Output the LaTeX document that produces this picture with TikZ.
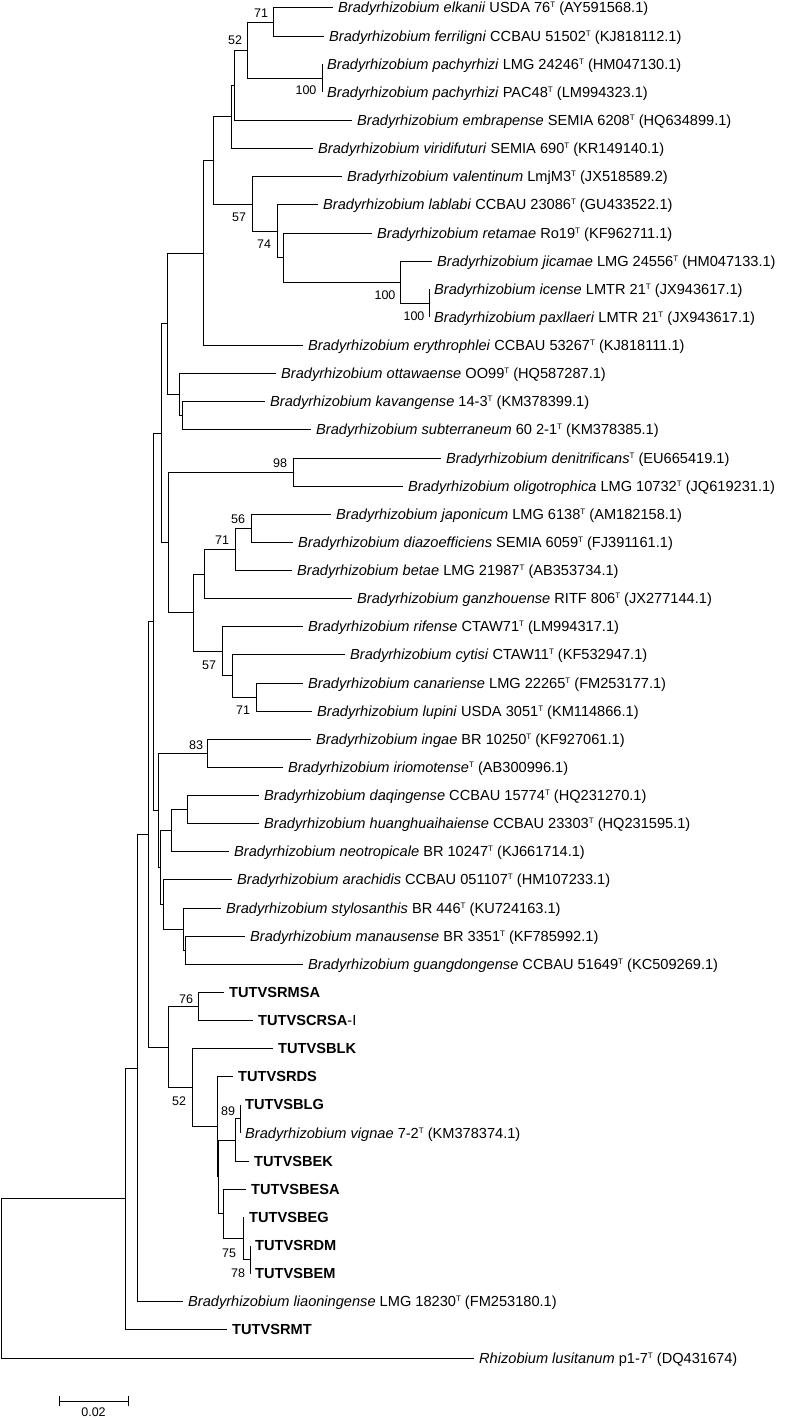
\documentclass[tikz,border=0pt]{standalone}
\usepackage{fontspec}
\setmainfont{Liberation Sans}
\newcommand{\leaffont}{\fontsize{14.6}{16}\selectfont}
\newcommand{\bsfont}{\fontsize{12.5}{14}\selectfont}
\newcommand{\tsup}{\raisebox{5pt}{\fontsize{8}{8}\selectfont T}}
\tikzset{
  br/.style={line width=1pt, draw=black},
  leaf/.style={anchor=base west, inner sep=0pt, xshift=5pt, yshift=-5pt, font=\leaffont},
  bs/.style={inner sep=0pt, font=\bsfont},
}
\begin{document}
\begin{tikzpicture}[x=1pt,y=-1pt]
\useasboundingbox (0,0) rectangle (785,1418);
% leaves
\coordinate (l1) at (333,8);
\coordinate (l2) at (324,36.125);
\coordinate (l3) at (322,64.25);
\coordinate (l4) at (322,92.375);
\coordinate (l5) at (352,120.5);
\coordinate (l6) at (313,148.625);
\coordinate (l7) at (342,176.75);
\coordinate (l8) at (318,204.875);
\coordinate (l9) at (372,233);
\coordinate (l10) at (432,261.125);
\coordinate (l11) at (429,289.25);
\coordinate (l12) at (429,317.375);
\coordinate (l13) at (303,345.5);
\coordinate (l14) at (276,373.625);
\coordinate (l15) at (265,401.75);
\coordinate (l16) at (311,429.875);
\coordinate (l17) at (441,458);
\coordinate (l18) at (403,486.125);
\coordinate (l19) at (331,514.25);
\coordinate (l20) at (293,542.375);
\coordinate (l21) at (292,570.5);
\coordinate (l22) at (352,598.625);
\coordinate (l23) at (303,626.75);
\coordinate (l24) at (345,654.875);
\coordinate (l25) at (303,683);
\coordinate (l26) at (312,711.125);
\coordinate (l27) at (311,739.25);
\coordinate (l28) at (283,767.375);
\coordinate (l29) at (259,795.5);
\coordinate (l30) at (259,823.625);
\coordinate (l31) at (229,851.75);
\coordinate (l32) at (232,879.875);
\coordinate (l33) at (221,908);
\coordinate (l34) at (245,936.125);
\coordinate (l35) at (303,964.25);
\coordinate (l36) at (224,992.375);
\coordinate (l37) at (253,1020.5);
\coordinate (l38) at (273,1048.625);
\coordinate (l39) at (233,1076.75);
\coordinate (l40) at (240,1104.875);
\coordinate (l41) at (240,1133);
\coordinate (l42) at (249,1161.125);
\coordinate (l43) at (246,1189.25);
\coordinate (l44) at (244,1217.375);
\coordinate (l45) at (250,1245.5);
\coordinate (l46) at (250,1273.625);
\coordinate (l47) at (183,1301.75);
\coordinate (l48) at (227,1329.875);
\coordinate (l49) at (474,1358);
% internal nodes
\coordinate (A71) at (273,22.06);
\coordinate (P100) at (322,78.31);
\coordinate (A52) at (247,50.19);
\coordinate (B) at (234,85.34);
\coordinate (C) at (231,116.98);
\coordinate (I100) at (429,303.31);
\coordinate (H) at (400,282.22);
\coordinate (G) at (283,257.61);
\coordinate (F) at (277,231.24);
\coordinate (E) at (252,204.0);
\coordinate (D) at (213,160.49);
\coordinate (J) at (203,253.0);
\coordinate (M) at (182,415.81);
\coordinate (L) at (179,394.72);
\coordinate (K) at (167,323.86);
\coordinate (D98) at (293,472.06);
\coordinate (T56) at (251,528.31);
\coordinate (S71) at (235,549.41);
\coordinate (Q) at (204,574.02);
\coordinate (V71) at (256,697.06);
\coordinate (U) at (232,675.97);
\coordinate (R57) at (222,651.36);
\coordinate (P) at (193,612.69);
\coordinate (O) at (168,542.38);
\coordinate (N) at (161,433.12);
\coordinate (Y83) at (207,753.31);
\coordinate (AA) at (187,809.56);
\coordinate (AB) at (171,830.66);
\coordinate (AE) at (185,950.19);
\coordinate (AD) at (183,929.09);
\coordinate (AC) at (163,904.48);
\coordinate (Z) at (160,867.57);
\coordinate (X) at (158,810.44);
\coordinate (W) at (153,621.78);
\coordinate (AF76) at (198,1006.44);
\coordinate (AL89) at (240,1118.94);
\coordinate (AK) at (235,1140.03);
\coordinate (AO78) at (250,1259.56);
\coordinate (AN75) at (243,1238.47);
\coordinate (AM) at (223,1213.86);
\coordinate (AJ) at (218,1176.95);
\coordinate (AI) at (217,1126.85);
\coordinate (AH52) at (192,1087.74);
\coordinate (AG) at (168,1047.09);
\coordinate (AP) at (148,834.44);
\coordinate (AQ) at (137,1068.09);
\coordinate (AR) at (125,1198.98);
\coordinate (root) at (1,1278.49);
% branches
\draw[br] (A71) |- (l1) (A71) |- (l2);
\draw[br] (P100) |- (l3) (P100) |- (l4);
\draw[br] (A52) |- (A71) (A52) |- (P100);
\draw[br] (B) |- (A52) (B) |- (l5);
\draw[br] (C) |- (B) (C) |- (l6);
\draw[br] (I100) |- (l11) (I100) |- (l12);
\draw[br] (H) |- (l10) (H) |- (I100);
\draw[br] (G) |- (l9) (G) |- (H);
\draw[br] (F) |- (l8) (F) |- (G);
\draw[br] (E) |- (l7) (E) |- (F);
\draw[br] (D) |- (C) (D) |- (E);
\draw[br] (J) |- (D) (J) |- (l13);
\draw[br] (M) |- (l15) (M) |- (l16);
\draw[br] (L) |- (l14) (L) |- (M);
\draw[br] (K) |- (J) (K) |- (L);
\draw[br] (D98) |- (l17) (D98) |- (l18);
\draw[br] (T56) |- (l19) (T56) |- (l20);
\draw[br] (S71) |- (T56) (S71) |- (l21);
\draw[br] (Q) |- (S71) (Q) |- (l22);
\draw[br] (V71) |- (l25) (V71) |- (l26);
\draw[br] (U) |- (l24) (U) |- (V71);
\draw[br] (R57) |- (l23) (R57) |- (U);
\draw[br] (P) |- (Q) (P) |- (R57);
\draw[br] (O) |- (D98) (O) |- (P);
\draw[br] (N) |- (K) (N) |- (O);
\draw[br] (Y83) |- (l27) (Y83) |- (l28);
\draw[br] (AA) |- (l29) (AA) |- (l30);
\draw[br] (AB) |- (AA) (AB) |- (l31);
\draw[br] (AE) |- (l34) (AE) |- (l35);
\draw[br] (AD) |- (l33) (AD) |- (AE);
\draw[br] (AC) |- (l32) (AC) |- (AD);
\draw[br] (Z) |- (AB) (Z) |- (AC);
\draw[br] (X) |- (Y83) (X) |- (Z);
\draw[br] (W) |- (N) (W) |- (X);
\draw[br] (AF76) |- (l36) (AF76) |- (l37);
\draw[br] (AL89) |- (l40) (AL89) |- (l41);
\draw[br] (AK) |- (AL89) (AK) |- (l42);
\draw[br] (AO78) |- (l45) (AO78) |- (l46);
\draw[br] (AN75) |- (l44) (AN75) |- (AO78);
\draw[br] (AM) |- (l43) (AM) |- (AN75);
\draw[br] (AJ) |- (AK) (AJ) |- (AM);
\draw[br] (AI) |- (l39) (AI) |- (AJ);
\draw[br] (AH52) |- (l38) (AH52) |- (AI);
\draw[br] (AG) |- (AF76) (AG) |- (AH52);
\draw[br] (AP) |- (W) (AP) |- (AG);
\draw[br] (AQ) |- (AP) (AQ) |- (l47);
\draw[br] (AR) |- (AQ) (AR) |- (l48);
\draw[br] (root) |- (AR) (root) |- (l49);
% leaf labels
\node[leaf] (t1) at (l1) {\textit{Bradyrhizobium elkanii} USDA 76\tsup{} (AY591568.1)};
\node[leaf] (t2) at (l2) {\textit{Bradyrhizobium ferriligni} CCBAU 51502\tsup{} (KJ818112.1)};
\node[leaf] (t3) at (l3) {\textit{Bradyrhizobium pachyrhizi} LMG 24246\tsup{} (HM047130.1)};
\node[leaf] (t4) at (l4) {\textit{Bradyrhizobium pachyrhizi} PAC48\tsup{} (LM994323.1)};
\node[leaf] (t5) at (l5) {\textit{Bradyrhizobium embrapense} SEMIA 6208\tsup{} (HQ634899.1)};
\node[leaf] (t6) at (l6) {\textit{Bradyrhizobium viridifuturi} SEMIA 690\tsup{} (KR149140.1)};
\node[leaf] (t7) at (l7) {\textit{Bradyrhizobium valentinum} LmjM3\tsup{} (JX518589.2)};
\node[leaf] (t8) at (l8) {\textit{Bradyrhizobium lablabi} CCBAU 23086\tsup{} (GU433522.1)};
\node[leaf] (t9) at (l9) {\textit{Bradyrhizobium retamae} Ro19\tsup{} (KF962711.1)};
\node[leaf] (t10) at (l10) {\textit{Bradyrhizobium jicamae} LMG 24556\tsup{} (HM047133.1)};
\node[leaf] (t11) at (l11) {\textit{Bradyrhizobium icense} LMTR 21\tsup{} (JX943617.1)};
\node[leaf] (t12) at (l12) {\textit{Bradyrhizobium paxllaeri} LMTR 21\tsup{} (JX943617.1)};
\node[leaf] (t13) at (l13) {\textit{Bradyrhizobium erythrophlei} CCBAU 53267\tsup{} (KJ818111.1)};
\node[leaf] (t14) at (l14) {\textit{Bradyrhizobium ottawaense} OO99\tsup{} (HQ587287.1)};
\node[leaf] (t15) at (l15) {\textit{Bradyrhizobium kavangense} 14-3\tsup{} (KM378399.1)};
\node[leaf] (t16) at (l16) {\textit{Bradyrhizobium subterraneum} 60 2-1\tsup{} (KM378385.1)};
\node[leaf] (t17) at (l17) {\textit{Bradyrhizobium denitrificans}\tsup{} (EU665419.1)};
\node[leaf] (t18) at (l18) {\textit{Bradyrhizobium oligotrophica} LMG 10732\tsup{} (JQ619231.1)};
\node[leaf] (t19) at (l19) {\textit{Bradyrhizobium japonicum} LMG 6138\tsup{} (AM182158.1)};
\node[leaf] (t20) at (l20) {\textit{Bradyrhizobium diazoefficiens} SEMIA 6059\tsup{} (FJ391161.1)};
\node[leaf] (t21) at (l21) {\textit{Bradyrhizobium betae} LMG 21987\tsup{} (AB353734.1)};
\node[leaf] (t22) at (l22) {\textit{Bradyrhizobium ganzhouense} RITF 806\tsup{} (JX277144.1)};
\node[leaf] (t23) at (l23) {\textit{Bradyrhizobium rifense} CTAW71\tsup{} (LM994317.1)};
\node[leaf] (t24) at (l24) {\textit{Bradyrhizobium cytisi} CTAW11\tsup{} (KF532947.1)};
\node[leaf] (t25) at (l25) {\textit{Bradyrhizobium canariense} LMG 22265\tsup{} (FM253177.1)};
\node[leaf] (t26) at (l26) {\textit{Bradyrhizobium lupini} USDA 3051\tsup{} (KM114866.1)};
\node[leaf] (t27) at (l27) {\textit{Bradyrhizobium ingae} BR 10250\tsup{} (KF927061.1)};
\node[leaf] (t28) at (l28) {\textit{Bradyrhizobium iriomotense}\tsup{} (AB300996.1)};
\node[leaf] (t29) at (l29) {\textit{Bradyrhizobium daqingense} CCBAU 15774\tsup{} (HQ231270.1)};
\node[leaf] (t30) at (l30) {\textit{Bradyrhizobium huanghuaihaiense} CCBAU 23303\tsup{} (HQ231595.1)};
\node[leaf] (t31) at (l31) {\textit{Bradyrhizobium neotropicale} BR 10247\tsup{} (KJ661714.1)};
\node[leaf] (t32) at (l32) {\textit{Bradyrhizobium arachidis} CCBAU 051107\tsup{} (HM107233.1)};
\node[leaf] (t33) at (l33) {\textit{Bradyrhizobium stylosanthis} BR 446\tsup{} (KU724163.1)};
\node[leaf] (t34) at (l34) {\textit{Bradyrhizobium manausense} BR 3351\tsup{} (KF785992.1)};
\node[leaf] (t35) at (l35) {\textit{Bradyrhizobium guangdongense} CCBAU 51649\tsup{} (KC509269.1)};
\node[leaf] (t36) at (l36) {\textbf{TUTVSRMSA}};
\node[leaf] (t37) at (l37) {\textbf{TUTVSCRSA}-I};
\node[leaf] (t38) at (l38) {\textbf{TUTVSBLK}};
\node[leaf] (t39) at (l39) {\textbf{TUTVSRDS}};
\node[leaf] (t40) at (l40) {\textbf{TUTVSBLG}};
\node[leaf] (t41) at (l41) {\textit{Bradyrhizobium vignae} 7-2\tsup{} (KM378374.1)};
\node[leaf] (t42) at (l42) {\textbf{TUTVSBEK}};
\node[leaf] (t43) at (l43) {\textbf{TUTVSBESA}};
\node[leaf] (t44) at (l44) {\textbf{TUTVSBEG}};
\node[leaf] (t45) at (l45) {\textbf{TUTVSRDM}};
\node[leaf] (t46) at (l46) {\textbf{TUTVSBEM}};
\node[leaf] (t47) at (l47) {\textit{Bradyrhizobium liaoningense} LMG 18230\tsup{} (FM253180.1)};
\node[leaf] (t48) at (l48) {\textbf{TUTVSRMT}};
\node[leaf] (t49) at (l49) {\textit{Rhizobium lusitanum} p1-7\tsup{} (DQ431674)};
% bootstrap values
\node[bs] (b1) at (261,13) {71};
\node[bs] (b2) at (235,40) {52};
\node[bs] (b3) at (306,90) {100};
\node[bs] (b4) at (239,217) {57};
\node[bs] (b5) at (264,244) {74};
\node[bs] (b6) at (385,295) {100};
\node[bs] (b7) at (414,316) {100};
\node[bs] (b8) at (280,463) {98};
\node[bs] (b9) at (238,519) {56};
\node[bs] (b10) at (222,540) {71};
\node[bs] (b11) at (209,665) {57};
\node[bs] (b12) at (243,710) {71};
\node[bs] (b13) at (196,745) {83};
\node[bs] (b14) at (186,999) {76};
\node[bs] (b15) at (179,1101) {52};
\node[bs] (b16) at (228,1111) {89};
\node[bs] (b17) at (229,1253) {75};
\node[bs] (b18) at (238,1273) {78};
% scale bar
\coordinate (s1) at (59,1401);
\coordinate (s2) at (128,1401);
\coordinate (s1a) at (59,1396);
\coordinate (s1b) at (59,1406);
\coordinate (s2a) at (128,1396);
\coordinate (s2b) at (128,1406);
\draw[br] (s1) -- (s2) (s1a) -- (s1b) (s2a) -- (s2b);
\node[bs] (sl) at (93.5,1412) {0.02};
\end{tikzpicture}
\end{document}
